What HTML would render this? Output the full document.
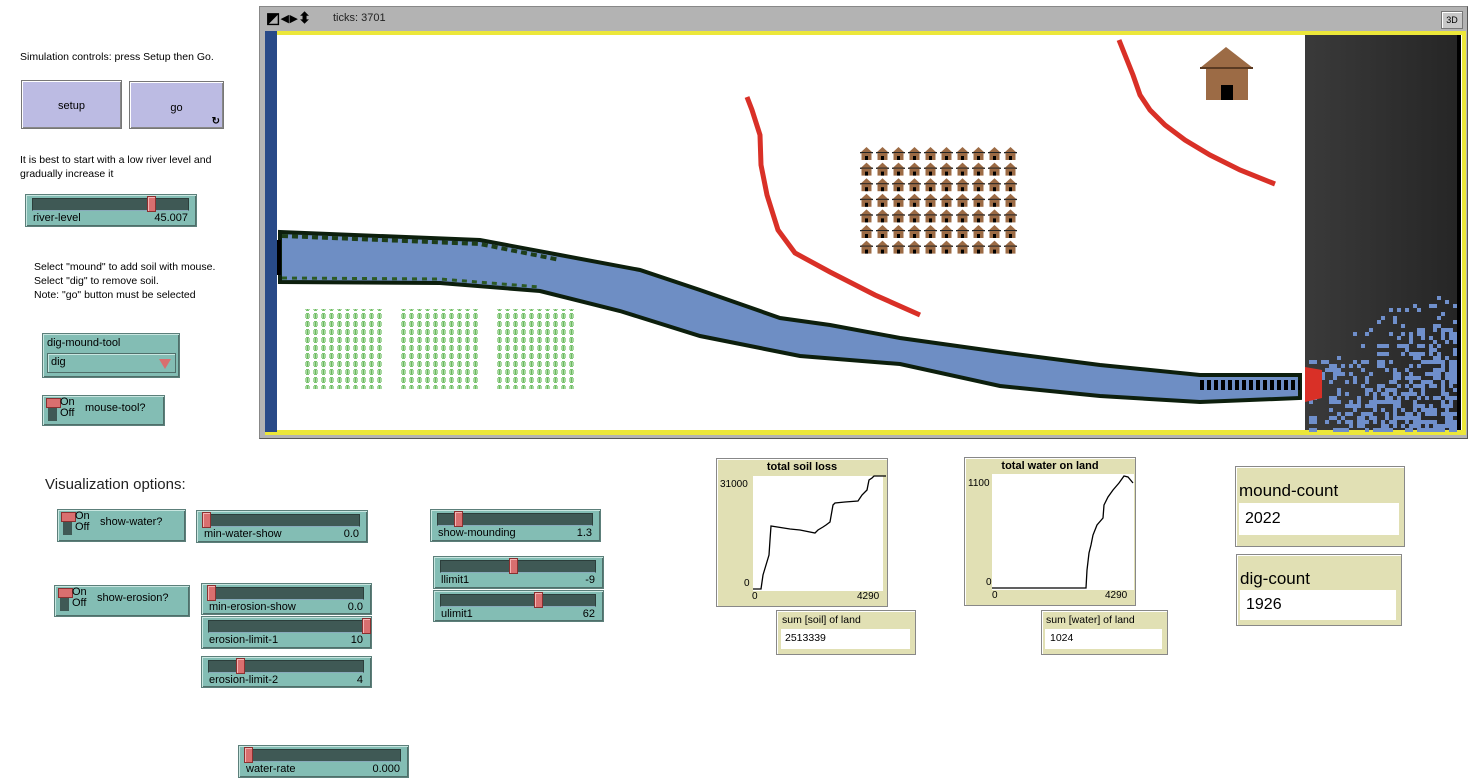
<!DOCTYPE html>
<html><head><meta charset="utf-8">
<style>
body{margin:0;width:1474px;height:784px;background:#fff;position:relative;overflow:hidden;font-family:"Liberation Sans",sans-serif;font-size:11px;color:#000}
.a{position:absolute}
.txt{position:absolute;font-size:10.5px;line-height:14px;white-space:nowrap}
.btn{position:absolute;background:#bcbbe3;border:1px solid #777;box-shadow:inset 1px 1px 0 #fff,inset -1px -1px 0 #888;text-align:center;font-size:11px}
.w{position:absolute;background:#83bdb4;border:1px solid #5c7f7a;box-shadow:inset 1px 1px 0 #c8e6e0,inset -1px -1px 0 #4f6f6a}
.trk{position:absolute;height:11px;background:#3f5955;border:1px solid #2c3e3b;border-bottom-color:#8ab;}
.th{position:absolute;width:7px;height:14px;background:#d96f6f;border:1px solid #8a3030;box-shadow:inset 1px 1px 0 #f4b4b4}
.lab{position:absolute;font-size:11px}
.sw{position:absolute;left:5px;top:4px;width:9px;height:21px;background:#3f5955}
.swt{position:absolute;left:3px;top:2px;width:13px;height:8px;background:#d96f6f;border:1px solid #8a3030}
.plot{position:absolute;background:#e1e0b4;border:1px solid #888;box-shadow:inset 1px 1px 0 #fff}
.mon{position:absolute;background:#e1e0b4;border:1px solid #888;box-shadow:inset 1px 1px 0 #fff}
.mv{position:absolute;background:#fff}
</style></head><body>

<div class="txt" style="left:20px;top:50px">Simulation controls: press Setup then Go.</div>
<div class="btn" style="left:21px;top:80px;width:99px;height:47px;line-height:50px">setup</div>
<div class="btn" style="left:129px;top:81px;width:93px;height:46px;line-height:52px">go<span class="a" style="right:3px;bottom:0;font-size:10px;line-height:12px;font-weight:bold">&#x21BB;</span></div>
<div class="txt" style="left:20px;top:153px">It is best to start with a low river level and<br>gradually increase it</div>
<div class="txt" style="left:34px;top:260px">Select "mound" to add soil with mouse.<br>Select "dig" to remove soil.<br>Note: "go" button must be selected</div>

<div class="w" style="left:42px;top:333px;width:136px;height:43px">
 <div class="lab" style="left:4px;top:3px">dig-mound-tool</div>
 <div class="a" style="left:4px;top:19px;width:127px;height:18px;background:#83bdb4;border:1px solid #4f6f6a;box-shadow:inset 1px 1px 0 #c8e6e0"><span class="a" style="left:3px;top:2px;font-size:11px">dig</span><span class="a" style="right:4px;top:5px;width:0;height:0;border-left:6px solid transparent;border-right:6px solid transparent;border-top:10px solid #d96f6f"></span></div>
</div>

<div class="txt" style="left:45px;top:476px;font-size:15px;line-height:18px;color:#222">Visualization options:</div>

<div id="widgets"></div>

<div class="a" style="left:259px;top:6px;width:1207px;height:431px;background:#b3b3b3;border:1px solid #888;border-right-color:#555;border-bottom-color:#555"></div>
<div class="a" style="left:266px;top:12px;font-size:15px;line-height:14px;font-weight:bold;letter-spacing:1px">&#x25E9;&#x25C2;&#x25B8;&#x2B0D;</div>
<div class="a" style="left:333px;top:12px;font-size:11px;color:#222">ticks: 3701</div>
<div class="a" style="left:1441px;top:11px;width:20px;height:16px;background:#c8c8c8;border:1px solid #777;box-shadow:inset 1px 1px 0 #fff;font-size:9px;line-height:16px;text-align:center">3D</div>

<svg class="a" style="left:0;top:0" width="1474" height="784">
 <defs>
  <linearGradient id="dk" x1="0" x2="1"><stop offset="0" stop-color="#3a3a3a"/><stop offset="1" stop-color="#262626"/></linearGradient>
  <pattern id="pl" width="8" height="8" patternUnits="userSpaceOnUse"><rect x="2" y="1" width="3" height="6" fill="#7cc472"/><rect x="1" y="2" width="5" height="4" fill="#a7d8a0"/><rect x="3" y="2" width="1" height="4" fill="#6ab85e"/></pattern>
 </defs>
 <rect x="265" y="31" width="1201" height="404" fill="#ece73a"/>
 <rect x="277" y="35" width="1185" height="395" fill="#fff"/>
 <rect x="265" y="31" width="12" height="401" fill="#294a88"/>
 <rect x="1305" y="35" width="152" height="395" fill="url(#dk)"/>
 <rect x="1457" y="35" width="4" height="395" fill="#000"/>
 <g id="blue"></g>
 <path d="M280,232 L480,240 L560,255 L640,270 L700,290 L780,318 L830,325 L900,338 L1000,352 L1100,365 L1200,375 L1300,375 L1300,398 L1200,402 L1100,396 L1000,386 L900,364 L800,356 L700,336 L620,311 L540,291 L440,283 L280,282 Z" fill="#6e8ec4" stroke="#0d1f0d" stroke-width="4"/>
 <path d="M282,236 L480,244 L560,260" fill="none" stroke="#1e3e1a" stroke-width="4" stroke-dasharray="6 4"/>
 <path d="M282,278 L440,279 L540,287" fill="none" stroke="#2d5a25" stroke-width="3" stroke-dasharray="5 5"/>
 <path d="M1200,385 L1300,385" stroke="#000" stroke-width="10" stroke-dasharray="4 3"/>
 <rect x="277" y="240" width="4" height="35" fill="#000"/>
 <path d="M1305,367 L1322,370 L1322,398 L1305,402 Z" fill="#d93027"/>
 <path d="M747,97 L752,110 L760,135 L761,165 L767,195 L778,230 L795,253 L830,272 L875,295 L920,315" fill="none" stroke="#d93027" stroke-width="5"/>
 <path d="M1119,40 L1125,55 L1133,75 L1140,95 L1150,110 L1165,125 L1185,140 L1210,155 L1240,170 L1275,184" fill="none" stroke="#d93027" stroke-width="5"/>
 <path d="M1200,68 L1226,47 L1253,68 Z" fill="#9c6b45"/>
 <rect x="1200" y="67" width="53" height="2" fill="#5a3a22"/>
 <rect x="1206" y="69" width="42" height="31" fill="#9c6b45"/>
 <rect x="1221" y="85" width="12" height="15" fill="#000"/>
 <g id="houses"></g>
 <rect x="304" y="309" width="80" height="80" fill="url(#pl)"/>
 <rect x="400" y="309" width="80" height="80" fill="url(#pl)"/>
 <rect x="496" y="309" width="80" height="80" fill="url(#pl)"/>
</svg>

<div class="plot" style="left:716px;top:458px;width:170px;height:147px">
 <div class="a" style="left:0;width:170px;top:2px;text-align:center;font-weight:bold;font-size:11px">total soil loss</div>
 <div class="a" style="left:36px;top:17px;width:130px;height:115px;background:#fff"></div>
 <div class="a" style="left:3px;top:20px;font-size:10px">31000</div>
 <div class="a" style="left:27px;top:119px;font-size:10px">0</div>
 <div class="a" style="left:35px;top:132px;font-size:10px">0</div>
 <div class="a" style="left:140px;top:132px;font-size:10px">4290</div>
</div>
<div class="plot" style="left:964px;top:457px;width:170px;height:147px">
 <div class="a" style="left:0;width:170px;top:2px;text-align:center;font-weight:bold;font-size:11px">total water on land</div>
 <div class="a" style="left:27px;top:16px;width:142px;height:116px;background:#fff"></div>
 <div class="a" style="left:3px;top:20px;font-size:10px">1100</div>
 <div class="a" style="left:21px;top:119px;font-size:10px">0</div>
 <div class="a" style="left:27px;top:132px;font-size:10px">0</div>
 <div class="a" style="left:140px;top:132px;font-size:10px">4290</div>
</div>
<svg class="a" style="left:0;top:0" width="1474" height="784">
 <polyline fill="none" stroke="#000" stroke-width="1.3" points="753,589 761,589 763,575 769,555 770,540 771,526 790,529 800,530 815,533 818,530 823,527 826,525 830,522 833,505 835,503 845,502 858,501 862,495 867,490 869,480 872,478 874,476 886,476"/>
 <polyline fill="none" stroke="#000" stroke-width="1.3" points="992,588 1086,588 1087,570 1089,553 1091,545 1093,535 1097,525 1103,518 1104,505 1108,497 1113,490 1119,483 1124,476 1128,477 1133,483"/>
</svg>

<div class="mon" style="left:776px;top:610px;width:138px;height:43px"><div class="a" style="left:5px;top:3px;font-size:10.5px">sum [soil] of land</div><div class="mv" style="left:4px;top:18px;width:129px;height:20px"><span class="a" style="left:4px;top:3px;font-size:10.5px">2513339</span></div></div>
<div class="mon" style="left:1041px;top:610px;width:125px;height:43px"><div class="a" style="left:4px;top:3px;font-size:10.5px">sum [water] of land</div><div class="mv" style="left:3px;top:18px;width:117px;height:20px"><span class="a" style="left:5px;top:3px;font-size:10.5px">1024</span></div></div>
<div class="mon" style="left:1235px;top:466px;width:168px;height:79px"><div class="a" style="left:3px;top:14px;font-size:17px">mound-count</div><div class="mv" style="left:3px;top:36px;width:160px;height:32px"><span class="a" style="left:6px;top:7px;font-size:16px">2022</span></div></div>
<div class="mon" style="left:1236px;top:554px;width:164px;height:70px"><div class="a" style="left:3px;top:14px;font-size:17px">dig-count</div><div class="mv" style="left:3px;top:35px;width:156px;height:30px"><span class="a" style="left:6px;top:6px;font-size:16px">1926</span></div></div>

<script>
var W=document.getElementById('widgets'),h='';
function sl(x,y,w,hh,l,v,t){h+='<div class="w" style="left:'+x+'px;top:'+y+'px;width:'+(w-2)+'px;height:'+(hh-2)+'px"><div class="trk" style="left:6px;top:3px;width:'+(w-17)+'px"></div><div class="th" style="left:'+(t-x)+'px;top:1px"></div><div class="lab" style="left:7px;top:17px">'+l+'</div><div class="lab" style="right:8px;top:17px">'+v+'</div></div>';}
function sw(x,y,w,hh,l){h+='<div class="w" style="left:'+x+'px;top:'+y+'px;width:'+(w-2)+'px;height:'+(hh-2)+'px"><div class="sw"></div><div class="swt"></div><div class="lab" style="left:17px;top:1px;line-height:11px;font-size:11px">On<br>Off</div><div class="lab" style="left:42px;top:6px">'+l+'</div></div>';}
sl(25,194,172,33,'river-level','45.007',146);
sl(196,510,172,33,'min-water-show','0.0',201);
sl(430,509,171,33,'show-mounding','1.3',453);
sl(433,556,171,33,'llimit1','-9',508);
sl(433,590,171,32,'ulimit1','62',533);
sl(201,583,171,32,'min-erosion-show','0.0',206);
sl(201,616,171,33,'erosion-limit-1','10',361);
sl(201,656,171,32,'erosion-limit-2','4',235);
sl(238,745,171,33,'water-rate','0.000',243);
sw(57,509,129,33,'show-water?');
sw(54,585,136,32,'show-erosion?');
sw(42,395,123,31,'mouse-tool?');
W.innerHTML=h;
var g=document.getElementById('houses'),s='';
for(var r=0;r<7;r++)for(var c=0;c<10;c++){var x=860+c*16,y=147+r*15.6;
s+='<path d="M'+x+','+(y+6)+' L'+(x+6.5)+','+y+' L'+(x+13)+','+(y+6)+' Z" fill="#9c6b45"/><rect x="'+x+'" y="'+(y+5)+'" width="13" height="1.3" fill="#222"/><rect x="'+(x+1.5)+'" y="'+(y+6)+'" width="10" height="7" fill="#9c6b45"/><rect x="'+(x+5)+'" y="'+(y+9)+'" width="3" height="4" fill="#000"/>';}
g.innerHTML=s;
var b=document.getElementById('blue'),seed=7;function rnd(){seed=(seed*9301+49297)%233280;return seed/233280;}
s='';for(var yy=296;yy<430;yy+=4)for(var xx=1309;xx<1457;xx+=4){var p=(xx-1309)/148,q=(yy-296)/134;var pr=Math.min(1,(p*0.8+q*0.8)-0.4);if(xx<1340)pr=Math.max(pr, q>0.45?0.5:0);if(rnd()<pr*0.62)s+='<rect x="'+xx+'" y="'+yy+'" width="4" height="4" fill="#6f8fcb"/>';}
b.innerHTML=s;
</script>
</body></html>
